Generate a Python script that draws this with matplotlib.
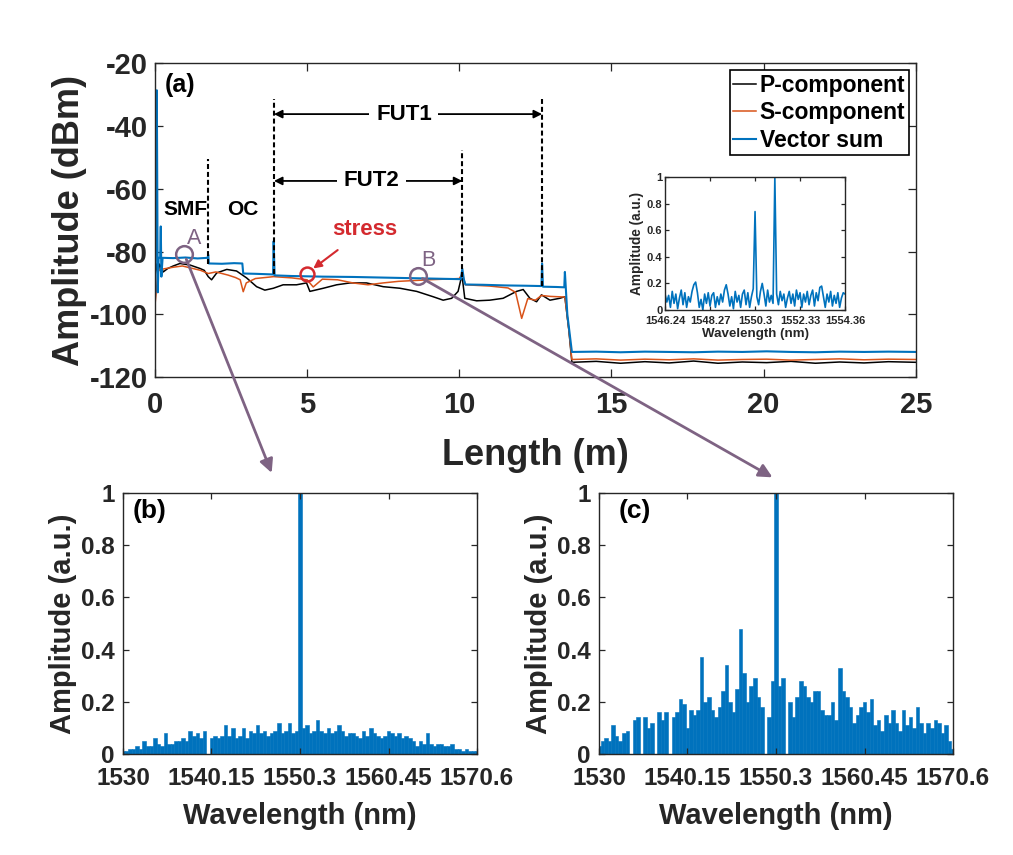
import numpy as np
import matplotlib
matplotlib.use("Agg")
import matplotlib.pyplot as plt
from matplotlib.patches import ConnectionPatch

plt.rcParams['font.family'] = ['Liberation Sans', 'DejaVu Sans']
plt.rcParams['font.weight'] = 'bold'
plt.rcParams['axes.labelweight'] = 'bold'
plt.rcParams['axes.unicode_minus'] = False

BLACK = '#000000'
ORANGE = '#D95319'
BLUE = '#0072BD'
PURPLE = '#7E6383'
RED = '#D42A2F'
AXC = '#262626'

# ── (a) OTDR-like traces: (length m, amplitude dBm) ──────────────────────────
P_COMPONENT = [
    (0.0, -88.0), (0.05, -84.0), (0.1, -87.0), (0.15, -84.0), (0.27, -86.5),
    (0.42, -85.4), (0.6, -84.6), (0.82, -83.8), (1.15, -84.3), (1.48, -85.4),
    (1.62, -86.0), (1.75, -88.0), (1.86, -89.0), (2.03, -86.8), (2.36, -85.7),
    (2.68, -86.2), (3.01, -88.4), (3.34, -91.2), (3.61, -92.3), (3.89, -91.7),
    (4.21, -90.6), (4.65, -90.6), (4.98, -90.0), (5.09, -92.7), (5.53, -91.7),
    (5.97, -90.6), (6.41, -90.0), (6.95, -90.0), (7.5, -91.2), (8.05, -91.7),
    (8.6, -92.7), (9.14, -94.4), (9.47, -95.5), (9.75, -94.9), (9.96, -92.7),
    (10.05, -89.0), (10.1, -88.5), (10.18, -94.9), (10.57, -95.7), (11.0, -95.5),
    (11.44, -94.9), (11.88, -92.7), (12.1, -92.1), (12.32, -94.9), (12.54, -96.0),
    (12.7, -93.8), (12.98, -95.5), (13.3, -94.9), (13.47, -94.4), (13.6, -105.0),
]
S_COMPONENT = [
    (0.0, -97.0), (0.05, -92.0), (0.1, -86.0), (0.3, -85.5), (0.6, -85.0),
    (0.9, -84.6), (1.2, -85.3), (1.5, -86.0), (1.75, -87.0), (2.0, -86.5),
    (2.4, -87.5), (2.65, -88.3), (2.8, -89.0), (2.9, -92.8), (3.0, -90.0),
    (3.3, -88.6), (3.9, -88.0), (4.5, -88.4), (5.0, -89.0), (5.2, -91.3),
    (5.5, -88.8), (6.0, -89.0), (6.5, -90.0), (7.0, -90.6), (7.5, -90.0),
    (8.0, -89.5), (9.0, -89.0), (10.0, -88.6), (10.1, -87.0), (10.2, -90.6),
    (11.0, -91.0), (11.6, -91.6), (11.85, -93.0), (12.05, -101.3), (12.25, -95.0),
    (12.5, -95.5), (12.7, -94.0), (13.0, -94.3), (13.47, -94.5), (13.6, -105.0),
]
VECTOR_SUM = [
    (0.0, -95.0), (0.04, -60.0), (0.06, -28.6), (0.09, -93.0), (0.12, -82.0),
    (0.17, -82.0), (0.19, -72.0), (0.21, -88.0), (0.25, -82.0), (0.6, -82.1),
    (1.0, -81.9), (1.4, -82.2), (1.73, -82.0), (1.75, -81.0), (1.77, -83.8),
    (2.2, -83.9), (2.6, -83.7), (2.87, -83.8), (2.9, -87.0), (3.3, -87.1),
    (3.6, -87.2), (3.88, -87.3), (3.9, -76.7), (3.93, -87.6), (4.5, -87.8),
    (5.5, -88.0), (6.5, -88.1), (7.5, -88.3), (8.5, -88.5), (9.5, -88.7),
    (10.05, -88.8), (10.1, -85.5), (10.15, -88.9), (10.2, -90.5), (10.8, -90.6),
    (11.5, -90.8), (12.2, -90.9), (12.7, -91.0), (12.72, -83.8), (12.75, -91.2),
    (13.2, -91.3), (13.45, -91.4), (13.47, -86.5), (13.55, -100.0),
]
TAIL_L = [13.7, 14.5, 15.3, 16.1, 16.9, 17.7, 18.5, 19.3, 20.1, 20.9, 21.7,
          22.5, 23.3, 24.1, 25.0]
TAIL_P = [-115.3, -115.0, -115.6, -115.1, -115.5, -114.9, -115.6, -115.2,
          -115.4, -115.0, -115.6, -115.2, -115.5, -115.1, -115.3]
TAIL_S = [-114.4, -114.2, -114.6, -114.3, -114.5, -114.2, -114.6, -114.4,
          -114.3, -114.6, -114.4, -114.2, -114.5, -114.3, -114.4]
TAIL_V = [-112.0, -111.9, -112.1, -111.9, -112.0, -112.1, -111.9, -112.0,
          -111.8, -112.0, -112.1, -111.9, -112.0, -111.9, -112.0]

SEGMENT_BOUNDS = [1.75, 3.91, 10.1, 12.72]        # dashed markers (m)
SEGMENT_TOPS = [-50.4, -31.3, -47.7, -31.3]
SEGMENT_BOTTOMS = [-84.0, -87.0, -88.0, -91.0]
FUT1 = (3.91, 12.72)
FUT2 = (3.91, 10.1)
POINT_NAMES = ['A', 'B']
POINT_L = [0.96, 8.63]
POINT_A = [-80.8, -87.7]
STRESS_POINT = (4.98, -87.2)

# ── inset: spectrum with two peaks ───────────────────────────────────────────
INSET_TICKS = [1546.24, 1548.27, 1550.3, 1552.33, 1554.36]
INSET_AMP = [
    0.12, 0.06, 0.11, 0.02, 0.14, 0.05, 0.12, 0.01, 0.09, 0.15,
    0.04, 0.13, 0.02, 0.10, 0.06, 0.14, 0.19, 0.21, 0.13, 0.02,
    0.08, 0.00, 0.12, 0.05, 0.13, 0.03, 0.11, 0.13, 0.02, 0.10,
    0.04, 0.12, 0.06, 0.15, 0.19, 0.12, 0.03, 0.10, 0.01, 0.14,
    0.06, 0.11, 0.02, 0.12, 0.15, 0.04, 0.13, 0.02, 0.10, 0.16,
    0.74, 0.10, 0.04, 0.14, 0.20, 0.12, 0.03, 0.15, 0.06, 0.11,
    0.05, 1.00, 0.12, 0.04, 0.14, 0.07, 0.12, 0.02, 0.09, 0.14,
    0.05, 0.12, 0.03, 0.15, 0.08, 0.13, 0.02, 0.12, 0.06, 0.14,
    0.04, 0.11, 0.15, 0.03, 0.13, 0.07, 0.17, 0.18, 0.10, 0.02,
    0.12, 0.06, 0.14, 0.03, 0.11, 0.05, 0.13, 0.02, 0.09, 0.13,
    0.12,
]

# ── (b) and (c): spectra at points A and B ───────────────────────────────────
SPEC_TICKS = [1530, 1540.15, 1550.3, 1560.45, 1570.6]
SPEC_TICK_LABELS = ['1530', '1540.15', '1550.3', '1560.45', '1570.6']
SPEC_A = [
    0.01, 0.01, 0.02, 0.02, 0.03, 0.02, 0.05, 0.03, 0.03, 0.06,
    0.04, 0.03, 0.08, 0.04, 0.04, 0.05, 0.05, 0.06, 0.05, 0.09,
    0.07, 0.08, 0.06, 0.09, 0.00, 0.06, 0.07, 0.06, 0.07, 0.11,
    0.07, 0.10, 0.06, 0.07, 0.10, 0.06, 0.09, 0.08, 0.11, 0.08,
    0.09, 0.07, 0.08, 0.09, 0.12, 0.08, 0.09, 0.12, 0.08, 0.09,
    1.00, 0.10, 0.11, 0.08, 0.09, 0.13, 0.09, 0.08, 0.10, 0.08,
    0.09, 0.11, 0.09, 0.07, 0.08, 0.08, 0.07, 0.06, 0.09, 0.07,
    0.10, 0.08, 0.07, 0.06, 0.07, 0.09, 0.08, 0.07, 0.08, 0.06,
    0.07, 0.06, 0.05, 0.03, 0.05, 0.04, 0.08, 0.04, 0.03, 0.04,
    0.04, 0.03, 0.03, 0.04, 0.02, 0.02, 0.01, 0.02, 0.01, 0.01,
    0.01,
]
SPEC_B = [
    0.03, 0.05, 0.06, 0.05, 0.11, 0.07, 0.05, 0.08, 0.09, 0.00,
    0.13, 0.14, 0.00, 0.14, 0.10, 0.12, 0.00, 0.16, 0.13, 0.16,
    0.00, 0.14, 0.16, 0.21, 0.19, 0.10, 0.17, 0.15, 0.17, 0.37,
    0.20, 0.22, 0.17, 0.14, 0.18, 0.24, 0.34, 0.20, 0.16, 0.25,
    0.48, 0.31, 0.20, 0.26, 0.29, 0.22, 0.18, 0.00, 0.14, 0.28,
    1.00, 0.26, 0.29, 0.00, 0.20, 0.14, 0.22, 0.28, 0.26, 0.22,
    0.20, 0.24, 0.24, 0.17, 0.15, 0.15, 0.20, 0.13, 0.33, 0.24,
    0.22, 0.18, 0.12, 0.15, 0.18, 0.20, 0.16, 0.21, 0.11, 0.13,
    0.09, 0.15, 0.12, 0.17, 0.12, 0.09, 0.17, 0.11, 0.14, 0.10,
    0.18, 0.12, 0.08, 0.12, 0.10, 0.13, 0.12, 0.08, 0.11, 0.05,
    0.02,
]


def style_axes(ax, size, tick_len):
    ax.tick_params(direction='in', top=True, right=True, length=tick_len,
                   width=0.9, color=AXC, labelcolor=AXC, labelsize=size)
    for s in ax.spines.values():
        s.set_color(AXC)
        s.set_linewidth(1.0)


fig = plt.figure(figsize=(10.13, 8.55), dpi=100)

# ── main panel (a) ───────────────────────────────────────────────────────────
ax = fig.add_axes([0.153, 0.559, 0.751, 0.367])
for pts, tail, color, lw, name in [
        (P_COMPONENT, TAIL_P, BLACK, 1.1, 'P-component'),
        (S_COMPONENT, TAIL_S, ORANGE, 1.1, 'S-component'),
        (VECTOR_SUM, TAIL_V, BLUE, 1.5, 'Vector sum')]:
    L = [p[0] for p in pts] + TAIL_L
    A = [p[1] for p in pts] + tail
    ax.plot(L, A, color=color, lw=lw, label=name)

ax.set_xlim(0, 25)
ax.set_ylim(-120, -20)
ax.set_xticks([0, 5, 10, 15, 20, 25])
ax.set_yticks([-120, -100, -80, -60, -40, -20])
style_axes(ax, 21, 6)
ax.tick_params(axis='x', pad=10)
ax.tick_params(axis='y', pad=5)
ax.set_xlabel('Length (m)', fontsize=26, color=AXC, labelpad=14)
ax.set_ylabel('Amplitude (dBm)', fontsize=26, color=AXC, labelpad=2)

leg = ax.legend(loc='upper right', bbox_to_anchor=(1, 1), fontsize=16.5,
                frameon=True, fancybox=False, edgecolor='black',
                framealpha=1, handlelength=1.0, handletextpad=0.15,
                labelspacing=0.2, borderpad=0.15, borderaxespad=0.3)
leg.get_frame().set_linewidth(1.2)

for x, top, bot in zip(SEGMENT_BOUNDS, SEGMENT_TOPS, SEGMENT_BOTTOMS):
    ax.plot([x, x], [bot, top], color='black', lw=1.5,
            linestyle=(0, (2.4, 1.4)))

for (x0, x1), y, txt, tx in [(FUT1, -36.2, 'FUT1', 8.18),
                             (FUT2, -57.5, 'FUT2', 7.12)]:
    ax.annotate('', xy=(x0, y), xytext=(x1, y),
                arrowprops=dict(arrowstyle='<|-|>', lw=1.3, color='black',
                                shrinkA=0, shrinkB=0, mutation_scale=12))
    ax.text(tx, y, txt, fontsize=16, ha='center', va='center',
            bbox=dict(boxstyle='square,pad=0.3', fc='white', ec='none'))

ax.text(1.0, -66.5, 'SMF', fontsize=15, ha='center', va='center')
ax.text(2.88, -66.5, 'OC', fontsize=15, ha='center', va='center')
ax.text(0.013, 0.93, '(a)', transform=ax.transAxes, fontsize=18,
        ha='left', va='center')

ax.plot(POINT_L, POINT_A, 'o', ms=12, mfc='none', mec=PURPLE, mew=1.8,
        zorder=5)
for name, x, y in zip(POINT_NAMES, POINT_L, POINT_A):
    ax.text(x + 0.34, y + 4.9, name, fontsize=15.5, fontweight='normal',
            color=PURPLE, ha='center', va='center')

ax.plot([STRESS_POINT[0]], [STRESS_POINT[1]], 'o', ms=10, mfc='none',
        mec=RED, mew=1.8, zorder=5)
ax.annotate('stress', xy=(5.2, -85.4), xytext=(6.91, -72.9),
            fontsize=16, color=RED, ha='center', va='center',
            arrowprops=dict(arrowstyle='-|>', color=RED, lw=1.5,
                            shrinkA=9, shrinkB=0, mutation_scale=12))

# ── inset ────────────────────────────────────────────────────────────────────
axi = fig.add_axes([0.6565, 0.6374, 0.1777, 0.1556])
wl_i = np.linspace(INSET_TICKS[0], INSET_TICKS[-1], len(INSET_AMP))
axi.plot(wl_i, INSET_AMP, color=BLUE, lw=1.2)
axi.set_xlim(INSET_TICKS[0], INSET_TICKS[-1])
axi.set_ylim(0, 1)
axi.set_xticks(INSET_TICKS)
axi.set_xticklabels([f'{t:g}' for t in INSET_TICKS])
axi.set_yticks([0, 0.2, 0.4, 0.6, 0.8, 1])
axi.set_yticklabels(['0', '0.2', '0.4', '0.6', '0.8', '1'])
style_axes(axi, 8.0, 3)
axi.tick_params(axis='x', pad=4)
axi.tick_params(axis='y', pad=2)
axi.set_xlabel('Wavelength (nm)', fontsize=9.6, color=AXC, labelpad=2)
axi.set_ylabel('Amplitude (a.u.)', fontsize=9.8, color=AXC, labelpad=2)

# ── panels (b) and (c) ───────────────────────────────────────────────────────
wl = np.linspace(SPEC_TICKS[0], SPEC_TICKS[-1], len(SPEC_A))
step = wl[1] - wl[0]
panels = []
for left, amp, tag, tag_x in [(0.1214, SPEC_A, '(b)', 0.076),
                              (0.5913, SPEC_B, '(c)', 0.10)]:
    axp = fig.add_axes([left, 0.1181, 0.3495, 0.3053])
    axp.bar(wl, amp, width=step, color=BLUE, edgecolor=BLUE, linewidth=0.4)
    axp.set_xlim(SPEC_TICKS[0], SPEC_TICKS[-1])
    axp.set_ylim(0, 1)
    axp.set_xticks(SPEC_TICKS)
    axp.set_xticklabels(SPEC_TICK_LABELS)
    axp.set_yticks([0, 0.2, 0.4, 0.6, 0.8, 1])
    axp.set_yticklabels(['0', '0.2', '0.4', '0.6', '0.8', '1'])
    style_axes(axp, 17.5, 4)
    axp.tick_params(axis='x', pad=9)
    axp.tick_params(axis='y', pad=6)
    axp.set_xlabel('Wavelength (nm)', fontsize=21, color=AXC, labelpad=9)
    axp.set_ylabel('Amplitude (a.u.)', fontsize=21, color=AXC, labelpad=3)
    axp.text(tag_x, 0.93, tag, transform=axp.transAxes, fontsize=19,
             ha='center', va='center')
    panels.append(axp)

# purple arrows from the sampled points to their spectra
for x, y, axp, head in zip(POINT_L, POINT_A, panels,
                           [(0.42, 1.077), (0.49, 1.06)]):
    con = ConnectionPatch(xyA=(x, y), coordsA='data', axesA=ax,
                          xyB=head, coordsB='axes fraction', axesB=axp,
                          arrowstyle='-|>', color=PURPLE, lw=2.0,
                          mutation_scale=20, shrinkA=4, shrinkB=0)
    fig.add_artist(con)

fig.savefig('out.png', dpi=100)
